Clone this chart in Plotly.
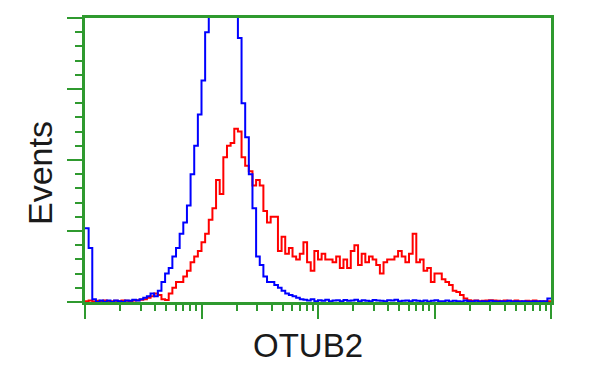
import plotly.graph_objects as go

# ---- data (histogram counts per log-spaced channel, 128 channels over 4 decades) ----
n_channels = 128
decades = 4

blue_counts = [
    26, 19, 1, 0, 0.5, 0, 0.5, 0, 0.5, 0.3,
    0, 0.5, 0.4, 0.8, 0.5, 1, 1.5, 2, 3, 2,
    4, 7, 10, 12, 16, 19, 24, 28, 34, 45,
    55, 66, 78, 95, 125, 140, 150, 155, 150, 140,
    125, 104, 93, 70, 58, 45, 33, 16, 13, 9,
    7, 7, 6, 5, 4, 3, 2.5, 2, 1.5, 1,
    0.8, 0.5, 1, 0.3, 0.6, 0.4, 0.8, 0.3, 0.5, 0.6,
    0.3, 0.7, 0.4, 0.5, 0.8, 0.3, 0.6, 0.4, 0.3, 0.7,
    0.5, 0.4, 0.3, 0.6, 0.5, 0.8, 0.3, 0.4, 0.5, 0.3,
    0.6, 0.4, 0.3, 0.5, 0.2, 0.4, 0.6, 0.3, 0.3, 0.5,
    0.2, 0.4, 0.3, 0.2, 0.5, 0.3, 0.2, 0.4, 0.2, 0.3,
    0.2, 0.4, 0.3, 0.2, 0.3, 0.2, 0.4, 0.2, 0.3, 0.2,
    0.3, 0.2, 0.2, 0.3, 0.2, 0.3, 0.2, 1.2,
]

red_counts = [
    0.3, 0.5, 0.2, 0.4, 0.3, 0.5, 0.2, 0.3, 0.4, 0.3,
    0.5, 0.4, 0.3, 0.5, 0.6, 0.8, 1, 1.5, 2, 3,
    2.5, 1, 0.7, 3, 5, 7, 7, 9, 11, 14,
    16, 18, 21, 24, 29, 33, 43, 38, 51, 55,
    56, 61, 60, 51, 48, 46, 41, 43, 41, 32,
    28, 30, 30, 18, 23, 17, 19, 16, 15, 17,
    21, 14, 11, 18, 15, 17, 15, 15, 14, 16,
    12, 15, 12, 18, 20, 13, 17, 14, 16, 15,
    13, 10, 14, 15, 15, 16, 18, 16, 14, 17,
    24, 14, 15, 11, 12, 7, 10, 10, 8, 7,
    6, 4, 3.5, 2.5, 1.2, 0.6, 0.4, 0.5, 0.3, 0.4,
    0.5, 0.6, 0.5, 0.4, 0.3, 0.5, 0.4, 0.3, 0.5, 0.3,
    0.2, 0.4, 0.3, 0.5, 0.3, 0.2, 0.3, 0.3,
]

x_major_ticks = [1, 10, 100, 1000, 10000]
x_minor_multipliers = [2, 3, 4, 5, 6, 7, 8, 9]

# ---- build channel edges on the log scale ----
edges = [10 ** (decades * i / n_channels) for i in range(n_channels + 1)]
x_minor_ticks = [m * d for d in x_major_ticks[:-1] for m in x_minor_multipliers]

GREEN = "#2f9a2f"
FONT = "Liberation Sans, Arial, sans-serif"

fig = go.Figure()
fig.add_trace(go.Scatter(
    x=edges, y=red_counts + [red_counts[-1]],
    mode="lines", line=dict(color="#ff0000", width=2, shape="hv"),
    hoverinfo="skip", showlegend=False,
))
fig.add_trace(go.Scatter(
    x=edges, y=blue_counts + [blue_counts[-1]],
    mode="lines", line=dict(color="#0000ff", width=2, shape="hv"),
    hoverinfo="skip", showlegend=False,
))

fig.update_layout(
    width=600, height=375,
    margin=dict(l=85, r=49, t=18, b=73),
    paper_bgcolor="white", plot_bgcolor="white",
    xaxis=dict(
        type="log", range=[0, decades],
        showgrid=False, zeroline=False,
        showline=True, linecolor=GREEN, linewidth=2.5, mirror=True,
        tickmode="array", tickvals=x_major_ticks,
        ticks="outside", ticklen=14, tickwidth=2, tickcolor=GREEN,
        showticklabels=False,
        minor=dict(tickmode="array", tickvals=x_minor_ticks,
                   ticks="outside", ticklen=6, tickwidth=1.5, tickcolor=GREEN,
                   showgrid=False),
    ),
    yaxis=dict(
        range=[0, 100],
        showgrid=False, zeroline=False,
        showline=True, linecolor=GREEN, linewidth=2.5, mirror=True,
        tickmode="linear", tick0=0, dtick=25,
        ticks="outside", ticklen=15, tickwidth=2, tickcolor=GREEN,
        showticklabels=False,
        minor=dict(tickmode="linear", tick0=0, dtick=5,
                   ticks="outside", ticklen=7, tickwidth=1.5, tickcolor=GREEN,
                   showgrid=False),
    ),
    annotations=[
        dict(text="Events", xref="paper", yref="paper",
             x=(40 - 85) / 466, y=(302 - 173) / 284,
             xanchor="center", yanchor="middle", textangle=-90, showarrow=False,
             font=dict(family=FONT, size=34, color="#1a1a1a")),
        dict(text="OTUB2", xref="paper", yref="paper",
             x=(308 - 85) / 466, y=(302 - 345) / 284,
             xanchor="center", yanchor="middle", showarrow=False,
             font=dict(family=FONT, size=33, color="#1a1a1a")),
    ],
)

fig.write_html("out.html")
